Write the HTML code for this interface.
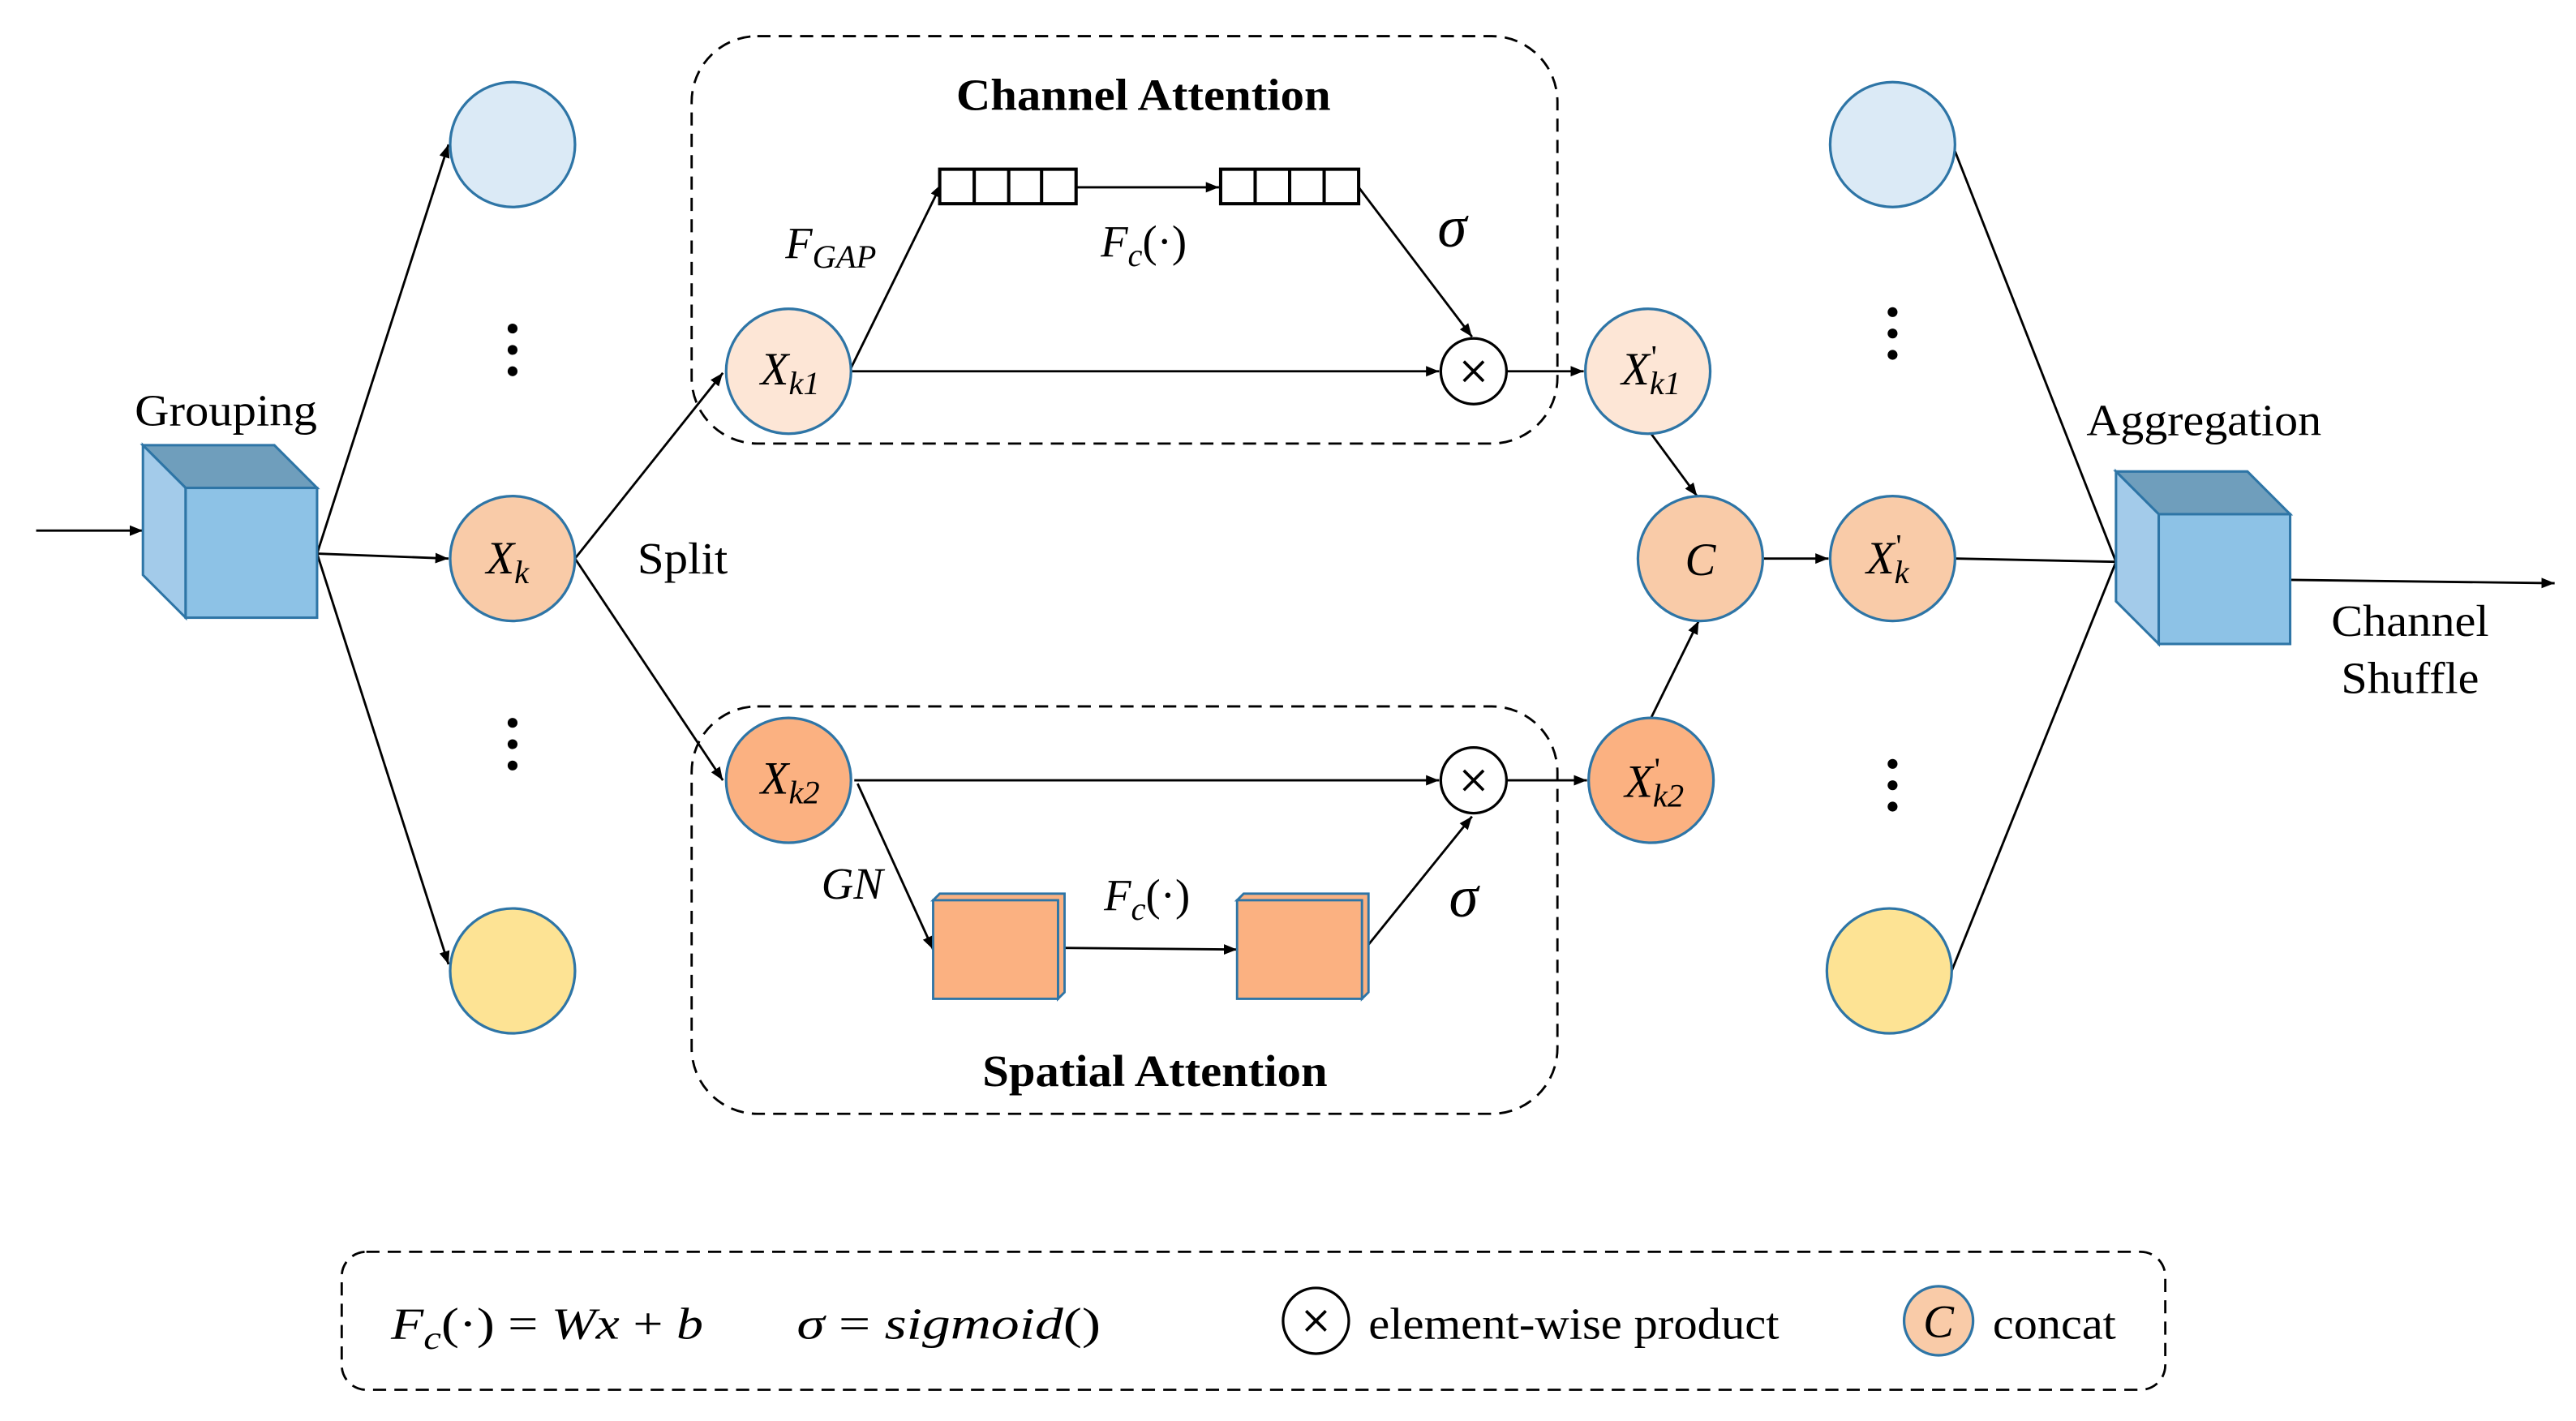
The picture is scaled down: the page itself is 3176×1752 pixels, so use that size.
<!DOCTYPE html>
<html><head><meta charset="utf-8"><style>
html,body{margin:0;padding:0;background:#fff;}
svg{display:block;}
svg text{font-family:"Liberation Serif","DejaVu Serif","Times New Roman",serif;fill:#000;}
.i{font-style:italic;}
</style></head><body>
<svg width="3176" height="1752" viewBox="0 0 1568 865" preserveAspectRatio="none" xmlns="http://www.w3.org/2000/svg" font-family="Liberation Serif, DejaVu Serif, serif">
<defs>
<marker id="a" viewBox="0 0 10 10" refX="10" refY="5" markerWidth="8" markerHeight="8" orient="auto-start-reverse" markerUnits="userSpaceOnUse"><path d="M0,1 L10,5 L0,9 z" fill="#000"/></marker>
</defs>
<g stroke="#000" stroke-width="1.4" fill="none">
<rect x="421" y="22" width="527" height="248" rx="40" stroke-dasharray="8,5"/>
<rect x="421" y="430" width="527" height="248" rx="40" stroke-dasharray="8,5"/>
<rect x="208" y="762" width="1110" height="84" rx="15" stroke-dasharray="8,5"/>
<line x1="22" y1="323" x2="87" y2="323" marker-end="url(#a)"/>
<line x1="193" y1="337" x2="273" y2="88" marker-end="url(#a)"/>
<line x1="193" y1="337" x2="273" y2="340" marker-end="url(#a)"/>
<line x1="193" y1="337" x2="273" y2="587" marker-end="url(#a)"/>
<line x1="350" y1="340" x2="440" y2="227" marker-end="url(#a)"/>
<line x1="350" y1="340" x2="440" y2="475" marker-end="url(#a)"/>
<line x1="518" y1="224" x2="573" y2="112" marker-end="url(#a)"/>
<line x1="655" y1="114" x2="742" y2="114" marker-end="url(#a)"/>
<line x1="827" y1="114" x2="896" y2="205" marker-end="url(#a)"/>
<line x1="518" y1="226" x2="876" y2="226" marker-end="url(#a)"/>
<line x1="917" y1="226" x2="964" y2="226" marker-end="url(#a)"/>
<line x1="520" y1="475" x2="876" y2="475" marker-end="url(#a)"/>
<line x1="522" y1="477" x2="568" y2="578" marker-end="url(#a)"/>
<line x1="646" y1="577" x2="753" y2="578" marker-end="url(#a)"/>
<line x1="833" y1="575" x2="896" y2="497" marker-end="url(#a)"/>
<line x1="917" y1="475" x2="966" y2="475" marker-end="url(#a)"/>
<line x1="1005" y1="264" x2="1033" y2="302" marker-end="url(#a)"/>
<line x1="1005" y1="437" x2="1034" y2="378" marker-end="url(#a)"/>
<line x1="1073" y1="340" x2="1113" y2="340" marker-end="url(#a)"/>
<line x1="1190" y1="92" x2="1288" y2="342"/>
<line x1="1190" y1="340" x2="1288" y2="342"/>
<line x1="1188" y1="591" x2="1288" y2="342"/>
<line x1="1394" y1="353" x2="1555" y2="355" marker-end="url(#a)"/>
</g>
<g stroke="#2e75a6" stroke-width="1.5">
<polygon points="87,271 167,271 193,297 113,297" fill="#6f9ebc"/>
<polygon points="87,271 113,297 113,376 87,350" fill="#a3cbea"/>
<rect x="113" y="297" width="80" height="79" fill="#8dc2e6"/>
<polygon points="1288,287 1368,287 1394,313 1314,313" fill="#6f9ebc"/>
<polygon points="1288,287 1314,313 1314,392 1288,366" fill="#a3cbea"/>
<rect x="1314" y="313" width="80" height="79" fill="#8dc2e6"/>
</g>
<g stroke="#2e75a6" stroke-width="1.6">
<circle cx="312" cy="88" r="38" fill="#dbeaf6"/>
<circle cx="312" cy="340" r="38" fill="#f9cba8"/>
<circle cx="312" cy="591" r="38" fill="#fde394"/>
<circle cx="480" cy="226" r="38" fill="#fde6d6"/>
<circle cx="480" cy="475" r="38" fill="#fbb181"/>
<circle cx="1003" cy="226" r="38" fill="#fde6d6"/>
<circle cx="1005" cy="475" r="38" fill="#fbb181"/>
<circle cx="1035" cy="340" r="38" fill="#f9cba8"/>
<circle cx="1152" cy="340" r="38" fill="#f9cba8"/>
<circle cx="1152" cy="88" r="38" fill="#dbeaf6"/>
<circle cx="1150" cy="591" r="38" fill="#fde394"/>
<circle cx="1180" cy="804" r="21" fill="#f9cba8"/>
</g>
<g fill="#000">
<circle cx="312" cy="200" r="3"/><circle cx="312" cy="213" r="3"/><circle cx="312" cy="226" r="3"/>
<circle cx="312" cy="440" r="3"/><circle cx="312" cy="453" r="3"/><circle cx="312" cy="466" r="3"/>
<circle cx="1152" cy="190" r="3"/><circle cx="1152" cy="203" r="3"/><circle cx="1152" cy="216" r="3"/>
<circle cx="1152" cy="465" r="3"/><circle cx="1152" cy="478" r="3"/><circle cx="1152" cy="491" r="3"/>
</g>
<g stroke="#000" stroke-width="2" fill="#fff">
<rect x="572" y="103" width="83" height="21"/>
<line x1="593" y1="103" x2="593" y2="124"/><line x1="614" y1="103" x2="614" y2="124"/><line x1="634" y1="103" x2="634" y2="124"/>
<rect x="743" y="103" width="84" height="21"/>
<line x1="764" y1="103" x2="764" y2="124"/><line x1="785" y1="103" x2="785" y2="124"/><line x1="806" y1="103" x2="806" y2="124"/>
</g>
<g stroke="#2e75a6" stroke-width="1.4" fill="#fbb181">
<polygon points="568,548 572,544 648,544 648,604 644,608 644,548"/>
<rect x="568" y="548" width="76" height="60"/>
<polygon points="753,548 757,544 833,544 833,604 829,608 829,548"/>
<rect x="753" y="548" width="76" height="60"/>
</g>
<g stroke="#000" stroke-width="1.6" fill="#fff">
<circle cx="897" cy="226" r="20"/><circle cx="897" cy="475" r="20"/><circle cx="801" cy="804" r="20"/>
</g>
<g stroke="#000" stroke-width="1.8">
<line x1="891" y1="220" x2="903" y2="232"/><line x1="903" y1="220" x2="891" y2="232"/>
<line x1="891" y1="469" x2="903" y2="481"/><line x1="903" y1="469" x2="891" y2="481"/>
<line x1="795" y1="798" x2="807" y2="810"/><line x1="807" y1="798" x2="795" y2="810"/>
</g>
<text x="82" y="259" font-size="27" textLength="111" lengthAdjust="spacingAndGlyphs">Grouping</text>
<text x="388" y="349" font-size="27" textLength="55" lengthAdjust="spacingAndGlyphs">Split</text>
<text x="1270" y="265" font-size="27" textLength="143" lengthAdjust="spacingAndGlyphs">Aggregation</text>
<text x="1419" y="387" font-size="27" textLength="96" lengthAdjust="spacingAndGlyphs">Channel</text>
<text x="1425" y="422" font-size="27" textLength="84" lengthAdjust="spacingAndGlyphs">Shuffle</text>
<text x="582" y="67" font-size="27" font-weight="bold" textLength="228" lengthAdjust="spacingAndGlyphs">Channel Attention</text>
<text x="598" y="661" font-size="27" font-weight="bold" textLength="210" lengthAdjust="spacingAndGlyphs">Spatial Attention</text>
<text x="296" y="349" font-size="28" class="i">X<tspan font-size="20" dy="6">k</tspan></text>
<text x="463" y="234" font-size="28" class="i">X<tspan font-size="20" dy="6">k1</tspan></text>
<text x="463" y="483" font-size="28" class="i">X<tspan font-size="20" dy="6">k2</tspan></text>
<text x="987" y="234" font-size="28" class="i">X<tspan font-size="20" dy="6">k1</tspan></text>
<text x="1005" y="224" font-size="20">'</text>
<text x="989" y="485" font-size="28" class="i">X<tspan font-size="20" dy="6">k2</tspan></text>
<text x="1007" y="475" font-size="20">'</text>
<text x="1136" y="349" font-size="28" class="i">X<tspan font-size="20" dy="6">k</tspan></text>
<text x="1154" y="339" font-size="20">'</text>
<text x="1035" y="350" font-size="28" class="i" text-anchor="middle">C</text>
<text x="1180" y="814" font-size="28" class="i" text-anchor="middle">C</text>
<text x="478" y="157" font-size="27" class="i">F<tspan font-size="20" dy="6">GAP</tspan></text>
<text x="670" y="156" font-size="27" class="i">F<tspan font-size="20" dy="6">c</tspan><tspan dy="-6" font-style="normal">(·)</tspan></text>
<text x="672" y="554" font-size="27" class="i">F<tspan font-size="20" dy="6">c</tspan><tspan dy="-6" font-style="normal">(·)</tspan></text>
<text x="500" y="547" font-size="27" class="i">GN</text>
<text x="875" y="150" font-size="36" class="i">σ</text>
<text x="882" y="558" font-size="36" class="i">σ</text>
<text x="238" y="815" font-size="27" class="i" textLength="190" lengthAdjust="spacingAndGlyphs">F<tspan font-size="20" dy="6">c</tspan><tspan dy="-6" font-style="normal">(·) = </tspan>Wx<tspan font-style="normal"> + </tspan>b</text>
<text x="485" y="815" font-size="27" class="i" textLength="185" lengthAdjust="spacingAndGlyphs">σ<tspan font-style="normal"> = </tspan>sigmoid<tspan font-style="normal">()</tspan></text>
<text x="833" y="815" font-size="27" textLength="250" lengthAdjust="spacingAndGlyphs">element-wise product</text>
<text x="1213" y="815" font-size="27" textLength="75" lengthAdjust="spacingAndGlyphs">concat</text>
</svg>
</body></html>
